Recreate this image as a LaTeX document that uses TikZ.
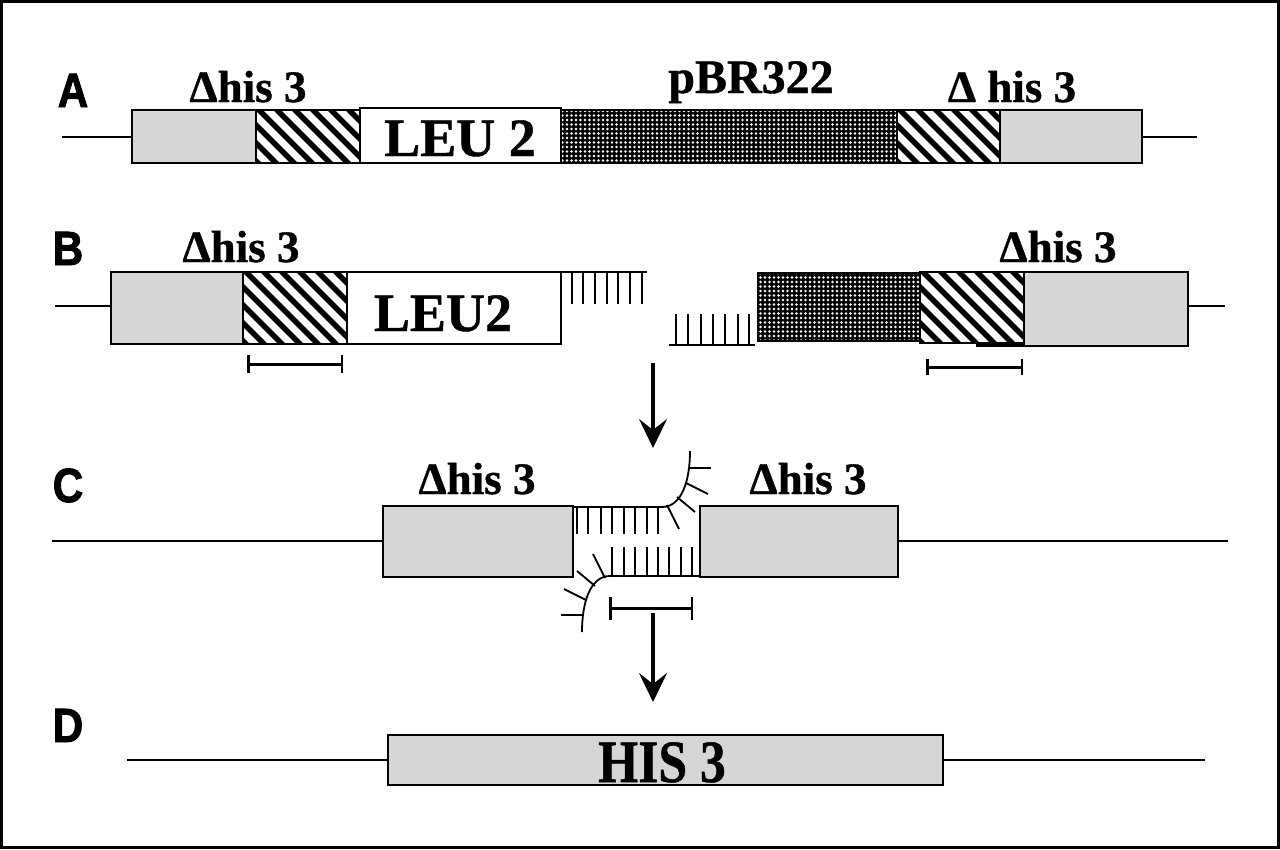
\documentclass[tikz,border=0pt]{standalone}
\usepackage{fontspec}
\setmainfont[BoldFeatures={FakeBold=0.8}]{Liberation Serif}
\newfontfamily\labfont[BoldFeatures={FakeBold=2}]{Liberation Sans}
\usetikzlibrary{patterns.meta,arrows.meta}
\definecolor{boxgray}{RGB}{214,214,214}
\newcommand\hatchrect[4]{%
  \begin{scope}
    \clip (#1,#2) rectangle (#3,#4);
    \foreach \k in {-110,-92,...,130} {\draw[line width=5.5] ({#1+\k},{#2-5}) -- ++(100,100);}
  \end{scope}
  \draw[seg] (#1,#2) rectangle (#3,#4);}
\newcommand\dotrect[4]{%
  \fill[black] (#1,#2) rectangle (#3,#4);
  \fill[pattern={Dots[radius=1.3pt,distance=4.5pt]},pattern color=white] (#1,#2) rectangle (#3,#4);
  \draw[seg] (#1,#2) rectangle (#3,#4);}
\begin{document}
\begin{tikzpicture}[x=1pt,y=-1pt,
  seg/.style={draw=black,line width=1.3},
  graybox/.style={seg,fill=boxgray},
  lbl/.style={font=\labfont\bfseries\fontsize{48}{48}\selectfont,anchor=base,xscale=0.88},
  his/.style={font=\bfseries\fontsize{45}{45}\selectfont,anchor=base},
  gname/.style={font=\bfseries\fontsize{54}{54}\selectfont,anchor=base},
  strand/.style={line width=1.8},
  tick/.style={line width=2.6},
  sbar/.style={line width=3},
  flow/.style={line width=3.2,-{Stealth[length=29pt,width=28pt,inset=11pt]}},
  dna/.style={line width=1.5}]
\useasboundingbox (0,0) rectangle (1280,849);
\fill[white] (0,0) rectangle (1280,849);
\draw[line width=3] (1.5,1.5) rectangle (1278.5,847.5);

% ---------- Row A ----------
\node[lbl] (labA) at (73,107) {A};
\draw[dna] (62,137) -- (132,137);
\draw[dna] (1142,137) -- (1197,137);
\draw[graybox] (132,110) rectangle (256,163);
\hatchrect{256}{110}{360}{163}
\draw[seg,fill=white] (360,108) rectangle (561,163);
\dotrect{561}{110}{897}{163}
\hatchrect{897}{110}{1000}{163}
\draw[graybox] (1000,110) rectangle (1142,163);
\node[gname] (leuA) at (460,156) {LEU 2};
\node[his] (hisA1) at (248,102) {Δhis 3};
\node[his,font=\bfseries\fontsize{48}{48}\selectfont] (pbr) at (751,93) {pBR322};
\node[his] (hisA2) at (1012,102) {Δ his 3};

% ---------- Row B ----------
\node[lbl] (labB) at (68,265) {B};
\node[his] (hisB1) at (241,262) {Δhis 3};
\node[his] (hisB2) at (1058,262) {Δhis 3};
\draw[dna] (55,306) -- (111,306);
\draw[graybox] (111,272) rectangle (243,344);
\hatchrect{243}{272}{347}{344}
\draw[seg,fill=white] (347,272) rectangle (561,344);
\node[gname] (leuB) at (443,331) {LEU2};
\draw[strand] (561,272) -- (647,272);
\foreach \x in {572,583,595,607,618,630,642} \draw[tick] (\x,272) -- (\x,304);
\draw[strand] (669,345) -- (755,345);
\foreach \x in {676,688,701,713,725,738,749} \draw[tick] (\x,345) -- (\x,314);
\dotrect{758}{273}{920}{341}
\hatchrect{920}{272}{1024}{343}
\draw[graybox] (1024,272) rectangle (1188,346);
\draw[line width=3] (976,345) -- (1024,345);
\draw[dna] (1188,306) -- (1225,306);
\draw[sbar] (248,364) -- (342,364);
\draw[sbar] (248,355) -- (248,373);
\draw[line width=2] (342,355) -- (342,373);
\draw[sbar] (927,367) -- (1022,367);
\draw[sbar] (927,359) -- (927,375);
\draw[line width=2] (1022,359) -- (1022,375);

% arrows
\coordinate (a1s) at (653,363);
\coordinate (a1e) at (653,448);
\draw[flow] (a1s) -- (a1e);
\coordinate (a2s) at (653,613);
\coordinate (a2e) at (653,702);
\draw[flow] (a2s) -- (a2e);

% ---------- Row C ----------
\node[lbl] (labC) at (68,502) {C};
\node[his] (hisC1) at (477,494) {Δhis 3};
\node[his] (hisC2) at (808,494) {Δhis 3};
\draw[dna] (52,541) -- (383,541);
\draw[dna] (898,541) -- (1228,541);
\draw[graybox] (383,506) rectangle (573,577);
\draw[graybox] (700,506) rectangle (898,577);
% upper strand
\draw[strand] (573,507) -- (662,507) .. controls (682,507) and (690,480) .. (690,451);
\foreach \x in {577,588,601,612,624,635,647,658} \draw[tick] (\x,507) -- (\x,534);
\draw[strand] (667,505) -- (679,529);
\draw[strand] (677,497) -- (695,512);
\draw[strand] (686,483) -- (708,494);
\draw[strand] (689,468) -- (711,468);
% lower strand
\draw[strand] (700,576) -- (610,576) .. controls (590,576) and (582,603) .. (582,632);
\foreach \x in {612,624,635,647,658,669,681,692} \draw[tick] (\x,576) -- (\x,547);
\draw[strand] (605,578) -- (593,554);
\draw[strand] (595,586) -- (577,571);
\draw[strand] (586,600) -- (564,589);
\draw[strand] (583,615) -- (561,615);
\draw[sbar] (610,608) -- (692,608);
\draw[sbar] (610,597) -- (610,620);
\draw[line width=2] (692,597) -- (692,620);

% ---------- Row D ----------
\node[lbl] (labD) at (68,742) {D};
\draw[dna] (127,760) -- (388,760);
\draw[dna] (943,760) -- (1205,760);
\draw[graybox] (388,735) rectangle (943,785);
\node[gname,font=\bfseries\fontsize{60}{60}\selectfont,xscale=0.86] (his3) at (662,782) {HIS 3};
\end{tikzpicture}
\end{document}
